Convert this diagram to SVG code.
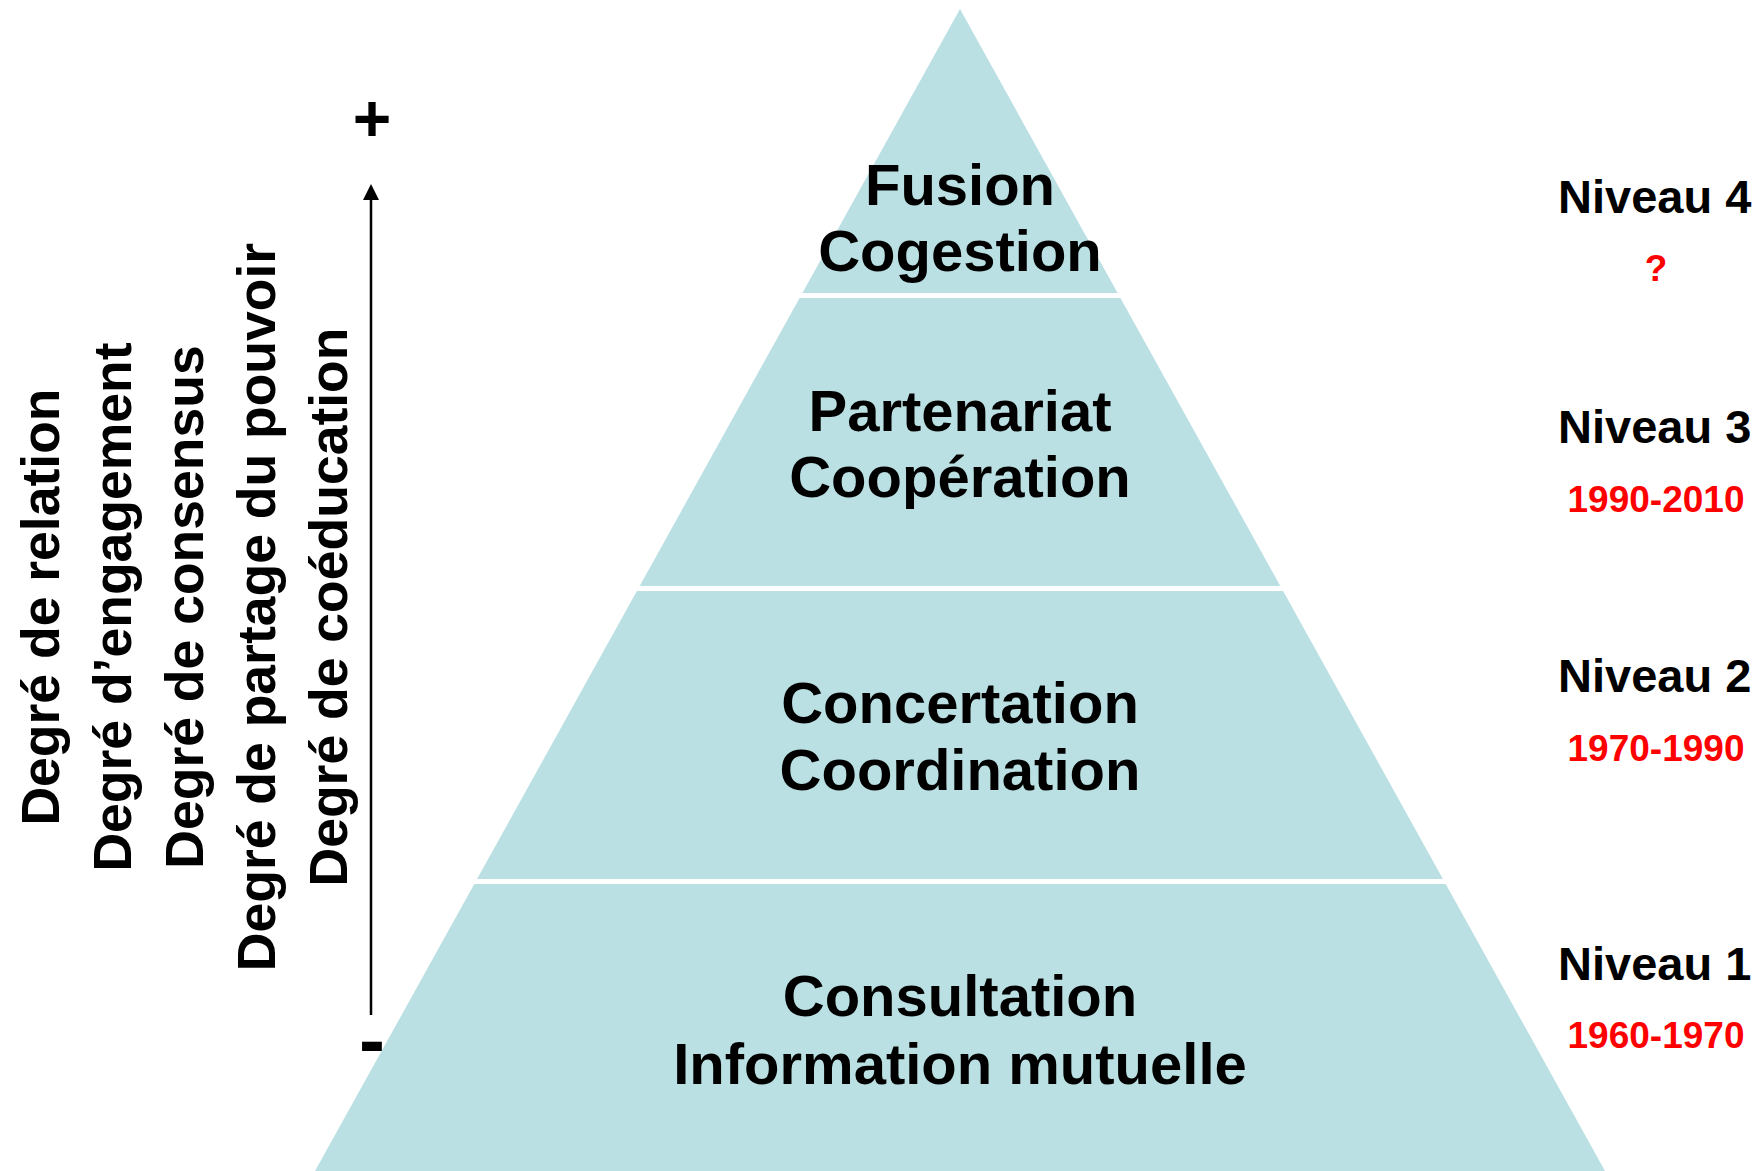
<svg xmlns="http://www.w3.org/2000/svg" width="1763" height="1171" viewBox="0 0 1763 1171">
<style>
.band{fill:#BAE0E3;}
.t{font-family:"Liberation Sans",Arial,sans-serif;font-weight:bold;font-size:58px;text-anchor:middle;fill:#000;}
.niv{font-family:"Liberation Sans",Arial,sans-serif;font-weight:bold;font-size:47px;fill:#000;}
.yr{font-family:"Liberation Sans",Arial,sans-serif;font-weight:bold;font-size:37px;text-anchor:middle;fill:#FF0000;}
.deg{font-family:"Liberation Sans",Arial,sans-serif;font-weight:bold;font-size:53.5px;text-anchor:middle;fill:#000;}
.sign{font-family:"Liberation Sans",Arial,sans-serif;font-weight:bold;text-anchor:middle;fill:#000;}
</style>
<defs>
<marker id="ah" markerWidth="16" markerHeight="16" refX="1" refY="8" orient="auto" markerUnits="userSpaceOnUse" viewBox="0 0 16 16">
<path d="M0,0 L16,8 L0,16 Z" fill="#000"/>
</marker>
</defs>
<rect width="1763" height="1171" fill="#fff"/>
<g id="niveau4">
<polygon class="band" points="960,9 1117.6,293 802.4,293"/>
<text class="t" x="960" y="205">Fusion</text>
<text class="t" x="960" y="271">Cogestion</text>
</g>
<g id="niveau3">
<polygon class="band" points="799.6,298 1120.4,298 1280.3,586 639.7,586"/>
<text class="t" x="960" y="431">Partenariat</text>
<text class="t" x="960" y="497">Coopération</text>
</g>
<g id="niveau2">
<polygon class="band" points="636.9,591 1283.1,591 1442.9,879 477.1,879"/>
<text class="t" x="960" y="723">Concertation</text>
<text class="t" x="960" y="790">Coordination</text>
</g>
<g id="niveau1">
<polygon class="band" points="474.3,884 1445.7,884 1605,1171 315,1171"/>
<text class="t" x="960" y="1016">Consultation</text>
<text class="t" x="960" y="1084">Information mutuelle</text>
</g>
<g id="labels">
<text class="niv" x="1558" y="213">Niveau 4</text>
<text class="yr" x="1656" y="281">?</text>
<text class="niv" x="1558" y="443">Niveau 3</text>
<text class="yr" x="1656" y="512">1990-2010</text>
<text class="niv" x="1558" y="692">Niveau 2</text>
<text class="yr" x="1656" y="761">1970-1990</text>
<text class="niv" x="1558" y="980">Niveau 1</text>
<text class="yr" x="1656" y="1048">1960-1970</text>
</g>
<g id="axis-labels">
<text class="deg" transform="translate(59,607) rotate(-90)">Degré de relation</text>
<text class="deg" transform="translate(131,607) rotate(-90)">Degré d’engagement</text>
<text class="deg" transform="translate(203,607) rotate(-90)">Degré de consensus</text>
<text class="deg" transform="translate(275,607) rotate(-90)">Degré de partage du pouvoir</text>
<text class="deg" transform="translate(347,607) rotate(-90)">Degré de coéducation</text>
<text class="sign" x="372" y="141" font-size="66">+</text>
<text class="sign" x="372" y="1067" font-size="78">-</text>
</g>
<g id="connectors">
<line x1="371" y1="1015" x2="371" y2="199" stroke="#000" stroke-width="2.5" marker-end="url(#ah)"/>
</g>
</svg>
